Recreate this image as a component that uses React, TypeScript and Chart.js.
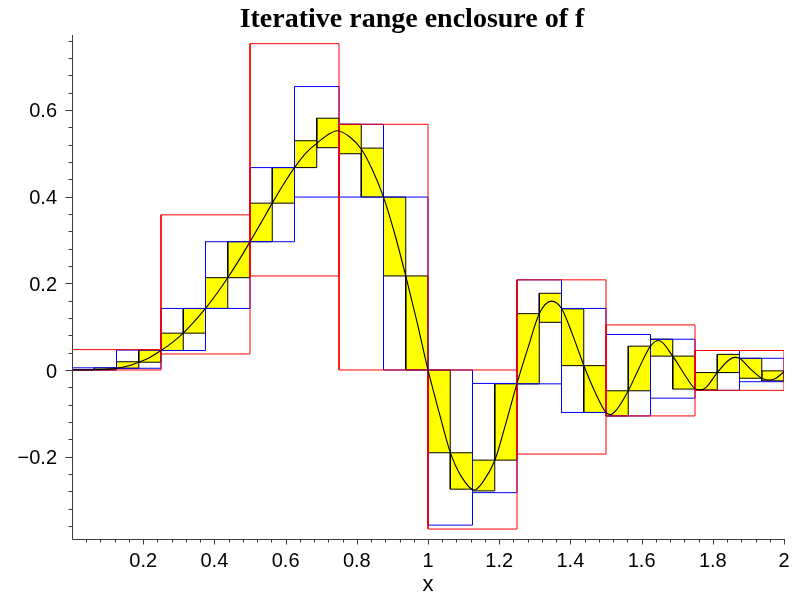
import React, { useEffect, useRef } from 'react';
import { Chart, registerables } from 'chart.js';

Chart.register(...registerables);

// ---------- data ----------
const TITLE = 'Iterative range enclosure of f';
const X_LABEL = 'x';
const X_MIN = 0;
const X_MAX = 2;
const Y_MIN = -0.39;
const Y_MAX = 0.773;
const TICK_STEP = 0.04;
const MAJOR_STEP = 0.2;
const X_TICK_LABELS = ['0.2', '0.4', '0.6', '0.8', '1', '1.2', '1.4', '1.6', '1.8', '2'];
const Y_TICK_LABELS = ['\u22120.2', '0', '0.2', '0.4', '0.6'];

// level 1: 8 intervals of width 0.25 (red)
const redLo = [0, 0.037, 0.217, 0, -0.367, -0.194, -0.106, -0.047];
const redHi = [0.047, 0.358, 0.753, 0.567, 0, 0.208, 0.104, 0.045];

// level 2: 16 intervals of width 0.125 (blue)
const blueLo = [0, 0.004, 0.045, 0.142, 0.296, 0.399, 0.399, 0, -0.358, -0.283, -0.032, -0.098, -0.106, -0.065, -0.047, -0.027];
const blueHi = [0.005, 0.046, 0.142, 0.296, 0.467, 0.654, 0.567, 0.399, 0, -0.031, 0.208, 0.142, 0.082, 0.071, 0.045, 0.027];

// level 3: 32 intervals of width 0.0625 (yellow)
const yellowLo = [
  0, 0.0005, 0.004, 0.018, 0.045, 0.085, 0.142, 0.213,
  0.296, 0.385, 0.467, 0.513, 0.499, 0.399, 0.217, 0,
  -0.191, -0.275, -0.279, -0.208, -0.032, 0.11, 0.01, -0.098,
  -0.106, -0.048, 0.032, -0.044, -0.046, -0.006, -0.019, -0.025,
];
const yellowHi = [
  0.001, 0.005, 0.019, 0.046, 0.085, 0.142, 0.213, 0.296,
  0.385, 0.467, 0.529, 0.581, 0.567, 0.512, 0.399, 0.217,
  0, -0.191, -0.208, -0.032, 0.13, 0.177, 0.141, 0.01,
  -0.048, 0.055, 0.071, 0.032, -0.006, 0.036, 0.027, -0.002,
];

// the function f
const curveX = [
  0, 0.03125, 0.0625, 0.09375, 0.125, 0.15625, 0.1875, 0.21875, 0.25, 0.28125,
  0.3125, 0.34375, 0.375, 0.40625, 0.4375, 0.46875, 0.5, 0.53125, 0.5625, 0.59375,
  0.625, 0.65625, 0.6875, 0.71875, 0.745, 0.78125, 0.8125, 0.84375, 0.875, 0.90625,
  0.9375, 0.96875, 1.0, 1.03125, 1.0625, 1.09375, 1.13, 1.15625, 1.1875, 1.21875,
  1.25, 1.28125, 1.3125, 1.347, 1.375, 1.40625, 1.4375, 1.46875, 1.5, 1.512,
  1.53125, 1.5625, 1.59375, 1.625, 1.648, 1.6875, 1.71875, 1.75, 1.766, 1.78125,
  1.8125, 1.84375, 1.862, 1.875, 1.90625, 1.9375, 1.955, 1.975, 2.0,
];
const curveY = [
  0, 0.0001, 0.0005, 0.0018, 0.004, 0.009, 0.018, 0.029, 0.045, 0.063,
  0.085, 0.112, 0.142, 0.176, 0.213, 0.253, 0.296, 0.34, 0.385, 0.428,
  0.467, 0.5, 0.523, 0.543, 0.552, 0.537, 0.51, 0.462, 0.399, 0.315,
  0.217, 0.112, 0, -0.098, -0.19, -0.246, -0.277, -0.256, -0.209, -0.123,
  -0.031, 0.052, 0.13, 0.159, 0.142, 0.081, 0.011, -0.05, -0.098, -0.103,
  -0.09, -0.048, 0.006, 0.055, 0.068, 0.032, -0.008, -0.043, -0.046, -0.04,
  -0.006, 0.022, 0.029, 0.027, 0.002, -0.019, -0.023, -0.02, -0.004,
];

// ---------- styles ----------
const RED = '#ff0000';
const BLUE = '#0000ff';
const YELLOW = '#ffff00';
const BLACK = '#000000';
const AXIS = '#3c3c3c';
const SANS = '"Liberation Sans", Arial, Helvetica, sans-serif';
const SERIF = '"Liberation Serif", "Times New Roman", Times, serif';

function stepValues(min: number, max: number): number[] {
  const out: number[] = [];
  const start = Math.ceil(min / TICK_STEP - 1e-9);
  const end = Math.floor(max / TICK_STEP + 1e-9);
  for (let k = start; k <= end; k++) out.push(Math.round(k * TICK_STEP * 1000) / 1000);
  return out;
}
function fmt(v: number): string {
  const r = Math.round(v * 100) / 100;
  const s = String(Math.abs(r));
  return r < 0 ? '\u2212' + s : s;
}
function isMajor(v: number): boolean {
  const q = v / MAJOR_STEP;
  return Math.abs(q - Math.round(q)) < 1e-6;
}

function boxDatasets(lo: number[], hi: number[], border: string, fill: string | null, order: number) {
  const n = lo.length;
  const w = (X_MAX - X_MIN) / n;
  return lo.map((l, i) => {
    const a = X_MIN + i * w;
    const b = a + w;
    const h = hi[i];
    return {
      type: 'line' as const,
      data: [
        { x: a, y: l },
        { x: b, y: l },
        { x: b, y: h },
        { x: a, y: h },
        { x: a, y: l },
      ],
      borderColor: border,
      borderWidth: 1,
      backgroundColor: fill ?? 'rgba(0,0,0,0)',
      fill: fill ? 'shape' : false,
      pointRadius: 0,
      pointHoverRadius: 0,
      tension: 0,
      order,
    };
  });
}

const axisPlugin = {
  id: 'mapleAxes',
  afterDraw(chart: any) {
    const { ctx, chartArea } = chart;
    const xs = chart.scales.x;
    const ys = chart.scales.y;
    const bottom = Math.round(chartArea.bottom) + 0.5;
    const left = Math.round(chartArea.left) + 0.5;
    ctx.save();
    ctx.strokeStyle = AXIS;
    ctx.lineWidth = 1;
    ctx.beginPath();
    ctx.moveTo(left, Math.round(chartArea.top));
    ctx.lineTo(left, bottom);
    ctx.lineTo(Math.round(chartArea.right) + 1, bottom);
    xs.ticks.forEach((t: any) => {
      if (t.value <= X_MIN + 1e-9) return;
      const px = Math.round(xs.getPixelForValue(t.value)) + 0.5;
      const len = isMajor(t.value) ? 5 : 3;
      ctx.moveTo(px, bottom);
      ctx.lineTo(px, bottom + len);
    });
    ys.ticks.forEach((t: any) => {
      const py = Math.round(ys.getPixelForValue(t.value)) + 0.5;
      const len = isMajor(t.value) ? 7 : 4;
      ctx.moveTo(left, py);
      ctx.lineTo(left - len, py);
    });
    ctx.stroke();

    // chart title, centred where the reference has it
    ctx.fillStyle = BLACK;
    ctx.font = `bold 28px ${SERIF}`;
    ctx.textAlign = 'center';
    ctx.textBaseline = 'alphabetic';
    ctx.fillText(TITLE, 412, 27);
    ctx.restore();
  },
};

export default function App() {
  const canvasRef = useRef<HTMLCanvasElement | null>(null);

  useEffect(() => {
    document.body.style.margin = '0';
    const canvas = canvasRef.current;
    if (!canvas) return;

    const curve = {
      type: 'line' as const,
      data: curveX.map((x, i) => ({ x, y: curveY[i] })),
      borderColor: BLACK,
      borderWidth: 1.1,
      pointRadius: 0,
      pointHoverRadius: 0,
      fill: false,
      cubicInterpolationMode: 'monotone' as const,
      order: 0,
    };

    const datasets: any[] = [
      curve,
      ...boxDatasets(redLo, redHi, RED, null, 1),
      ...boxDatasets(blueLo, blueHi, BLUE, null, 2),
      ...boxDatasets(yellowLo, yellowHi, BLACK, YELLOW, 3),
    ];

    const zeroPad = (scale: any) => {
      scale.paddingLeft = 0;
      scale.paddingRight = 0;
      scale.paddingTop = 0;
      scale.paddingBottom = 0;
    };

    const chart = new Chart(canvas, {
      type: 'line',
      data: { datasets },
      options: {
        animation: false,
        responsive: false,
        maintainAspectRatio: false,
        devicePixelRatio: 1,
        events: [],
        layout: { padding: { left: 0, right: 10, top: 35, bottom: 0 } },
        plugins: {
          legend: { display: false },
          tooltip: { enabled: false },
          title: { display: false },
        },
        scales: {
          x: {
            type: 'linear',
            min: X_MIN,
            max: X_MAX,
            grid: { display: false, drawTicks: false },
            border: { display: false },
            afterBuildTicks: (scale: any) => {
              scale.ticks = stepValues(X_MIN, X_MAX).map((v) => ({ value: v }));
            },
            afterFit: (scale: any) => {
              scale.height = 57;
              zeroPad(scale);
            },
            ticks: {
              autoSkip: false,
              maxRotation: 0,
              minRotation: 0,
              padding: 10,
              color: BLACK,
              font: { family: SANS, size: 20 },
              callback: (v: any) => {
                const s = fmt(Number(v));
                return isMajor(Number(v)) && X_TICK_LABELS.includes(s) ? s : '';
              },
            },
            title: {
              display: true,
              text: X_LABEL,
              color: BLACK,
              font: { family: SANS, size: 22, lineHeight: 1 },
              padding: { top: 0, bottom: 0 },
            },
          },
          y: {
            type: 'linear',
            min: Y_MIN,
            max: Y_MAX,
            grid: { display: false, drawTicks: false },
            border: { display: false },
            afterBuildTicks: (scale: any) => {
              scale.ticks = stepValues(Y_MIN, Y_MAX).map((v) => ({ value: v }));
            },
            afterFit: (scale: any) => {
              scale.width = 72;
              zeroPad(scale);
            },
            ticks: {
              autoSkip: false,
              padding: 15,
              labelOffset: 2,
              color: BLACK,
              font: { family: SANS, size: 20 },
              callback: (v: any) => {
                const s = fmt(Number(v));
                return isMajor(Number(v)) && Y_TICK_LABELS.includes(s) ? s : '';
              },
            },
          },
        },
      },
      plugins: [axisPlugin],
    } as any);

    return () => {
      chart.destroy();
    };
  }, []);

  return (
    <div style={{ width: 794, height: 596 }}>
      <canvas ref={canvasRef} width={794} height={596} style={{ display: 'block' }} />
    </div>
  );
}
